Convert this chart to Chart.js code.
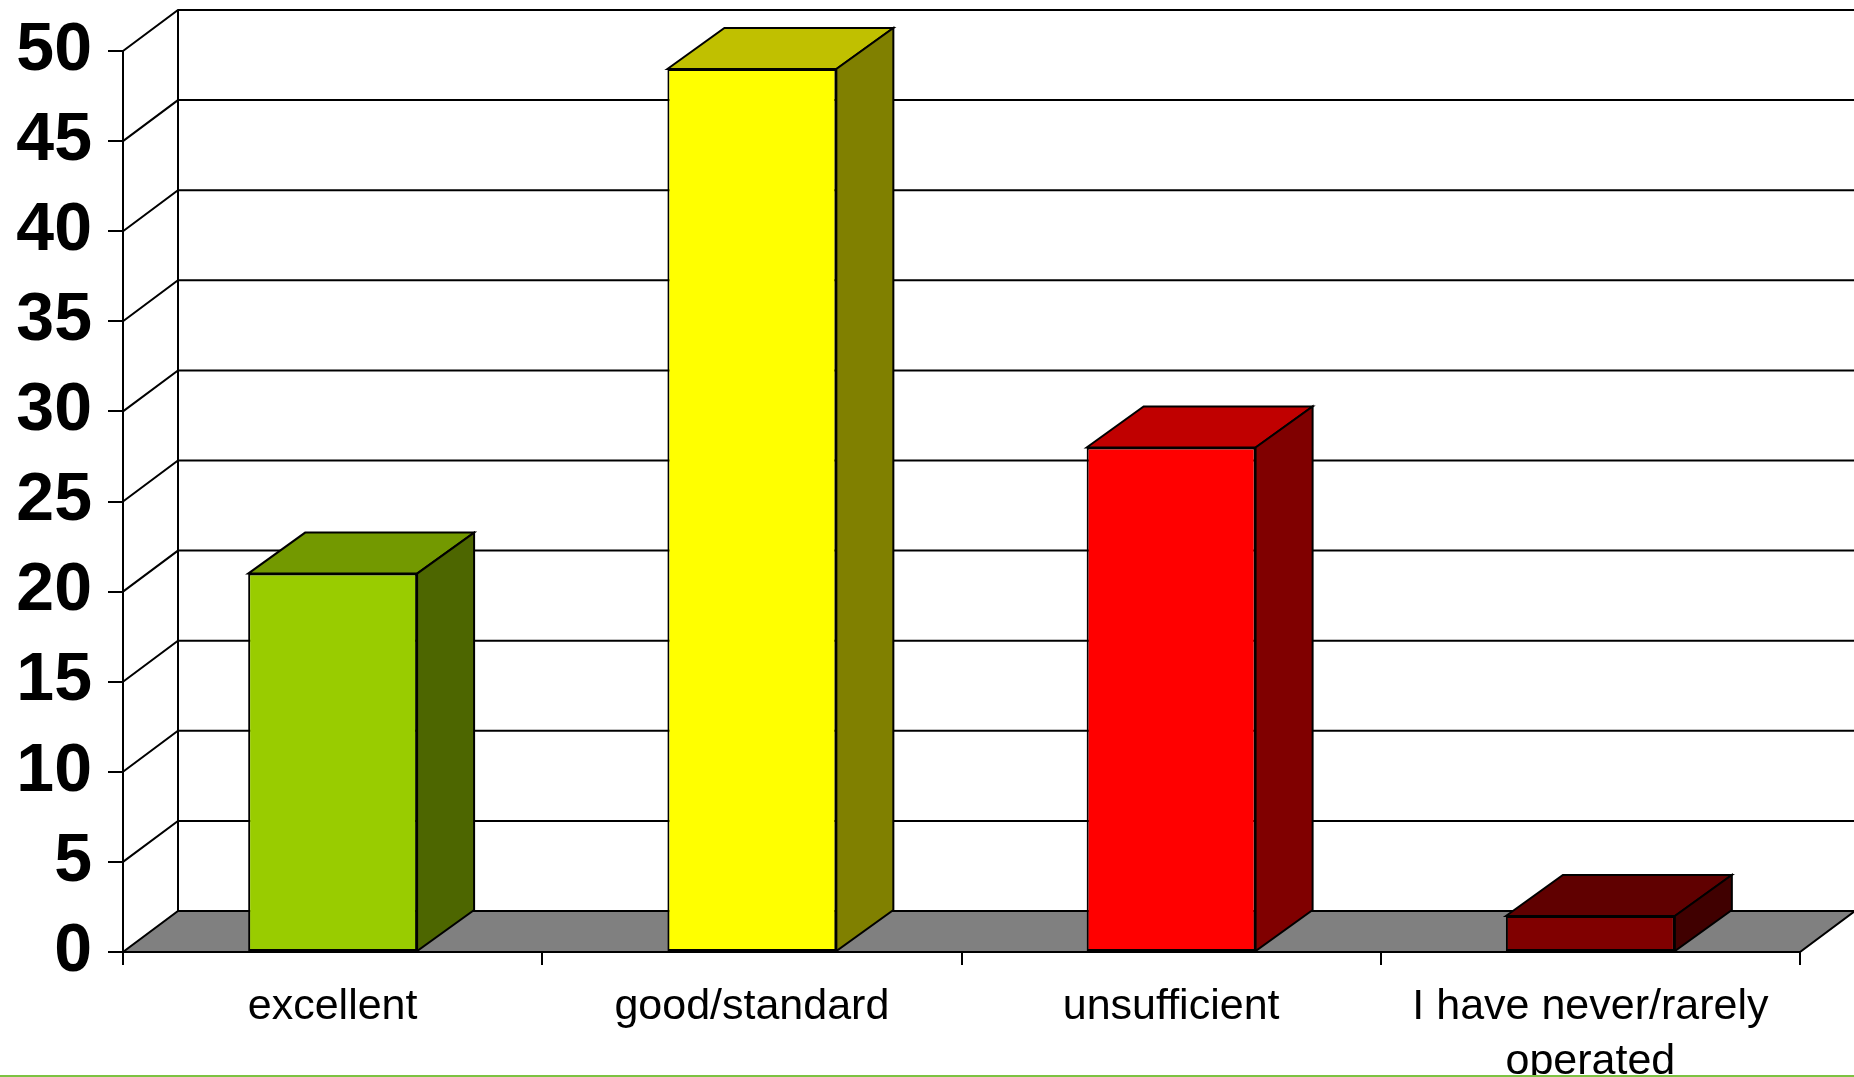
<!DOCTYPE html>
<html>
<head>
    <title>Assessment</title>
    <script src="https://cdn.jsdelivr.net/npm/chart.js@4.4.1/dist/chart.umd.min.js"></script>
    <style>
        html, body {
            margin: 0;
            padding: 0;
            background: #fff;
            overflow: hidden;
        }
        .chart-container {
            position: relative;
            width: 1854px;
            height: 1077px;
        }
        .bottom-rule {
            position: absolute;
            left: 0;
            top: 1075px;
            width: 1854px;
            height: 2px;
            background: #7cc242;
        }
    </style>
</head>
<body>
    <div class="chart-container">
        <canvas id="barChart"></canvas>
        <div class="bottom-rule"></div>
    </div>

    <script>
    // values
    const categories = ['excellent', 'good/standard', 'unsufficient', ['I have never/rarely', 'operated']];
    const values = [21, 49, 28, 2];
    const yTicks = [0, 5, 10, 15, 20, 25, 30, 35, 40, 45, 50];

    // face colours (front, top, side)
    const frontColors = ['#99cc00', '#ffff00', '#ff0000', '#800000'];
    const topColors = ['#739900', '#c0c000', '#c00000', '#600000'];
    const sideColors = ['#4d6600', '#808000', '#800000', '#400000'];

    // 3d depth offsets (walls, bars)
    const DX = 55;
    const DY = 41;
    const BAR_DX = 57;

    const depthPlugin = {
        id: 'depth',
        beforeDatasetsDraw(chart) {
            const ctx = chart.ctx;
            const area = chart.chartArea;
            const y = chart.scales.y;
            const base = y.getPixelForValue(0);
            const top = y.getPixelForValue(50);

            ctx.save();
            ctx.lineWidth = 2;
            ctx.strokeStyle = '#000';

            // floor
            ctx.beginPath();
            ctx.moveTo(area.left, base);
            ctx.lineTo(area.right, base);
            ctx.lineTo(area.right + DX, base - DY);
            ctx.lineTo(area.left + DX, base - DY);
            ctx.closePath();
            ctx.fillStyle = '#808080';
            ctx.fill();
            ctx.stroke();

            // back wall edge
            ctx.beginPath();
            ctx.moveTo(area.left + DX, top - DY);
            ctx.lineTo(area.left + DX, base - DY);
            ctx.stroke();

            // gridlines on side wall and back wall
            yTicks.forEach(v => {
                if (v === 0) return;
                const py = y.getPixelForValue(v);
                ctx.beginPath();
                ctx.moveTo(area.left, py);
                ctx.lineTo(area.left + DX, py - DY);
                ctx.lineTo(area.right + DX, py - DY);
                ctx.stroke();
            });
            ctx.restore();
        },
        afterDatasetsDraw(chart) {
            const ctx = chart.ctx;
            const meta = chart.getDatasetMeta(0);

            ctx.save();
            ctx.lineWidth = 2;
            ctx.strokeStyle = '#000';
            meta.data.forEach((bar, i) => {
                const l = bar.x - bar.width / 2;
                const r = bar.x + bar.width / 2;
                const t = bar.y;
                const b = bar.base;

                // top face
                ctx.beginPath();
                ctx.moveTo(l, t);
                ctx.lineTo(l + BAR_DX, t - DY);
                ctx.lineTo(r + BAR_DX, t - DY);
                ctx.lineTo(r, t);
                ctx.closePath();
                ctx.fillStyle = topColors[i];
                ctx.fill();
                ctx.stroke();

                // side face
                ctx.beginPath();
                ctx.moveTo(r, t);
                ctx.lineTo(r + BAR_DX, t - DY);
                ctx.lineTo(r + BAR_DX, b - DY);
                ctx.lineTo(r, b);
                ctx.closePath();
                ctx.fillStyle = sideColors[i];
                ctx.fill();
                ctx.stroke();
            });
            ctx.restore();
        }
    };

    const ctx = document.getElementById('barChart').getContext('2d');

    new Chart(ctx, {
        type: 'bar',
        data: {
            labels: categories,
            datasets: [{
                data: values,
                backgroundColor: frontColors,
                borderColor: '#000',
                borderWidth: 2,
                borderSkipped: false,
                categoryPercentage: 1,
                barPercentage: 0.403
            }]
        },
        options: {
            responsive: true,
            maintainAspectRatio: false,
            animation: false,
            layout: {
                padding: { top: 51, right: 54, bottom: 0, left: 0 }
            },
            plugins: {
                legend: { display: false },
                tooltip: { enabled: false }
            },
            scales: {
                x: {
                    offset: true,
                    afterFit: s => { s.height = 125; },
                    grid: {
                        offset: true,
                        drawOnChartArea: false,
                        drawTicks: true,
                        tickLength: 13,
                        color: '#000',
                        lineWidth: 2
                    },
                    border: { display: false },
                    ticks: {
                        color: '#000',
                        padding: 15,
                        maxRotation: 0,
                        autoSkip: false,
                        font: { family: "'Liberation Sans', Arial, sans-serif", size: 43, lineHeight: 1.27 }
                    }
                },
                y: {
                    min: 0,
                    max: 50,
                    afterFit: s => {
                        s.width = 123;
                        s.paddingTop = 0;
                        s.paddingBottom = 0;
                    },
                    afterBuildTicks: s => { s.ticks = yTicks.map(v => ({ value: v })); },
                    grid: {
                        drawOnChartArea: false,
                        drawTicks: true,
                        tickLength: 15,
                        color: '#000',
                        lineWidth: 2
                    },
                    border: { display: true, color: '#000', width: 2 },
                    ticks: {
                        color: '#000',
                        padding: 16,
                        font: { family: "'Liberation Sans', Arial, sans-serif", size: 68, weight: 'bold' }
                    }
                }
            }
        },
        plugins: [depthPlugin]
    });
    </script>
</body>
</html>
